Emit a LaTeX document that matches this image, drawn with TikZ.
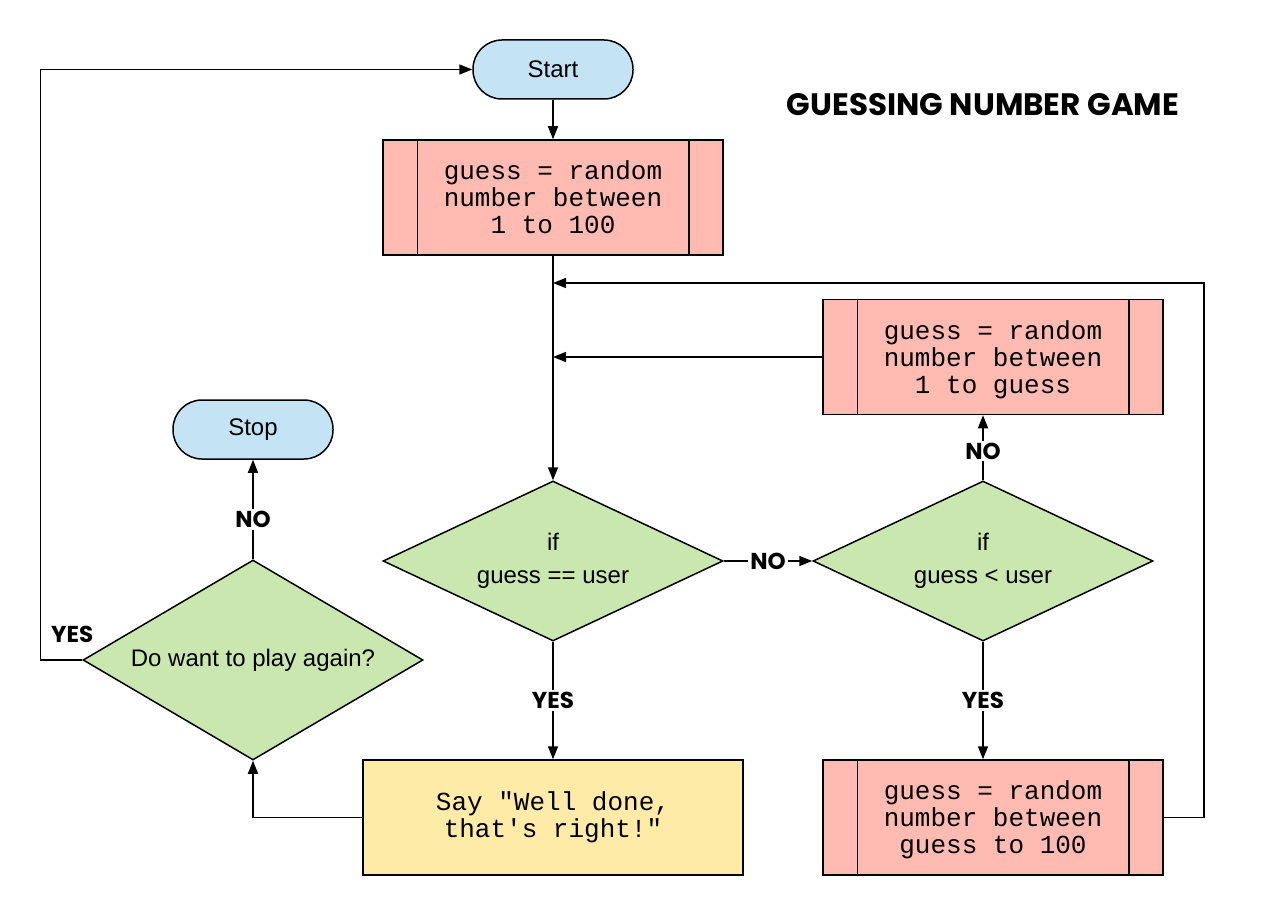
\documentclass[tikz,border=0pt]{standalone}
\usepackage{fontspec}
\setmainfont{Liberation Sans}
\setmonofont{Liberation Mono}
\newfontfamily\comicfont{Poppins}
\usepackage{xcolor}
\usetikzlibrary{arrows.meta, positioning}
\usetikzlibrary{shapes.geometric}
\definecolor{termblue}{HTML}{C4E4F6}
\definecolor{procred}{HTML}{FFBBB1}
\definecolor{decgreen}{HTML}{C9E7AE}
\definecolor{sayyellow}{HTML}{FFEBA8}
\newcommand{\nodesc}[1]{\raisebox{0pt}[\height][0pt]{#1}}

\begin{document}
\begin{tikzpicture}[>={Triangle[length=13pt, width=10pt]}, x=1pt, y=-1pt, line width=1.5pt,
    terminal/.style={rectangle, rounded corners=29pt, draw, fill=termblue,
        minimum width=160pt, minimum height=59pt, font=\fontsize{24}{29}\selectfont},
    process/.style={rectangle, draw, fill=procred, minimum width=340pt, minimum height=115pt,
        align=center, font=\ttfamily\fontsize{26}{27}\selectfont},
    saybox/.style={process, fill=sayyellow, minimum width=380pt},
    decision/.style={diamond, draw, fill=decgreen, inner sep=0pt, aspect=2,
        minimum width=340pt, minimum height=160pt, align=center,
        font=\fontsize{24}{33}\selectfont},
    tag/.style={fill=white, inner sep=2pt, font=\comicfont\bfseries\fontsize{23}{24}\selectfont}]
    \useasboundingbox (0,0) rectangle (1283,915);
    % nodes
    \node[terminal] (start) at (553,69.5) {Start};
    \node[process] (init) at (553,197.5) {guess = random\\number between\\1 to 100};
    \node[process] (lower) at (993,357) {guess = random\\number between\\\nodesc{1 to guess}};
    \node[process] (upper) at (993,817.5) {guess = random\\number between\\\nodesc{guess to 100}};
    \node[decision] (same) at (553,561) {if\\guess == user};
    \node[decision] (less) at (983,561) {if\\guess < user};
    \node[decision, minimum height=200pt, aspect=1.7] (again) at (253,660) {Do want to play again?};
    \node[terminal] (stop) at (253,429.5) {Stop};
    \node[saybox] (well) at (553,817.5) {Say "Well done,\\that's right!"};
    \node[font=\comicfont\bfseries\fontsize{31}{33}\selectfont] (title) at (983,105) {GUESSING NUMBER GAME};
    % side bars of the process boxes
    \foreach \n in {init, lower, upper} {
        \draw ([xshift=35pt]\n.north west) -- ([xshift=35pt]\n.south west);
        \draw ([xshift=-35pt]\n.north east) -- ([xshift=-35pt]\n.south east);
    }
    % connectors
    \coordinate (loop) at (init.south |- 0,283);
    \draw[->] (start) -- (init);
    \draw[->] (init) -- (same);
    \draw[->] (upper.east) -- ++(40,0) |- (loop);
    \draw[->] (lower.west) -- (init.south |- lower.west);
    \draw[->] (same) -- node[tag] {NO} (less);
    \draw[->] (less.north) -- node[tag, pos=0.45] {NO} (less.north |- lower.south);
    \draw[->] (less.south) -- node[tag] {YES} (less.south |- upper.north);
    \draw[->] (same) -- node[tag] {YES} (well);
    \draw[->] (well.west) -| (again.south);
    \draw[->] (again) -- node[tag, pos=0.4] {NO} (stop);
    \draw[->] (again.west) -- node[tag, above, fill=none, xshift=11pt, yshift=15pt] {YES} ++(-42,0) |- (start.west);
\end{tikzpicture}
\end{document}
